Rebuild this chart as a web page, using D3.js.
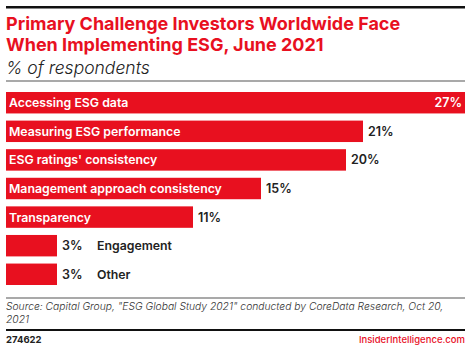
<!DOCTYPE html>
<html>
<head>
<meta charset="utf-8">
<script src="https://cdn.jsdelivr.net/npm/d3@7"></script>
<style>
  body { margin: 0; background: #fff; }
  svg { display: block; font-family: Inter, "Noto Sans", sans-serif; }
</style>
</head>
<body>
<div id="chart"></div>
<script>
const categories = ["Accessing ESG data", "Measuring ESG performance", "ESG ratings' consistency",
  "Management approach consistency", "Transparency", "Engagement", "Other"];
const values = [27, 21, 20, 15, 11, 3, 3];

const width = 470, height = 350;
const red = "#e8101f";
const margin = { l: 6, r: 5 };

const svg = d3.select("#chart").append("svg")
  .attr("width", width).attr("height", height);

// header
svg.append("rect").attr("x", 6).attr("y", 6).attr("width", 459).attr("height", 2.5).attr("fill", "#111");
svg.append("text").attr("x", 6).attr("y", 30).attr("fill", red)
  .attr("font-size", 18).attr("font-weight", 700).text("Primary Challenge Investors Worldwide Face");
svg.append("text").attr("x", 6).attr("y", 51).attr("fill", red)
  .attr("font-size", 18).attr("font-weight", 700).text("When Implementing ESG, June 2021");
svg.append("text").attr("x", 6).attr("y", 74).attr("fill", "#222")
  .attr("font-size", 17.5).attr("font-style", "italic").attr("font-weight", 300).text("% of respondents");
svg.append("rect").attr("x", 6).attr("y", 80.5).attr("width", 459).attr("height", 1).attr("fill", "#555");

// bars
const x = d3.scaleLinear().domain([0, 27]).range([margin.l, width - margin.r]);
const y = d3.scaleBand().domain(categories).range([92, 285]).paddingInner(0.25).paddingOuter(0);

const rows = svg.selectAll(".row").data(categories).join("g").attr("class", "row");

rows.append("rect")
  .attr("x", x(0))
  .attr("y", d => y(d))
  .attr("width", (d, i) => x(values[i]) - x(0))
  .attr("height", y.bandwidth())
  .attr("fill", red);

rows.each(function (d, i) {
  const g = d3.select(this);
  const v = values[i];
  const cy = y(d) + y.bandwidth() / 2 + 4.5;
  const barEnd = x(v);
  const small = v < 5;
  if (!small) {
    g.append("text").attr("x", x(0) + 3).attr("y", cy).attr("fill", "#fff")
      .attr("font-size", 12.3).attr("font-weight", 600).text(d);
  }
  const inside = i === 0;
  g.append("text")
    .attr("x", inside ? barEnd - 3 : barEnd + 5)
    .attr("y", cy)
    .attr("text-anchor", inside ? "end" : "start")
    .attr("fill", inside ? "#fff" : "#222")
    .attr("font-size", 12.5).attr("font-weight", 600)
    .text(v + "%");
  if (small) {
    g.append("text").attr("x", 97).attr("y", cy).attr("fill", "#222")
      .attr("font-size", 12.3).attr("font-weight", 600).text(d);
  }
});

// footer
svg.append("rect").attr("x", 6).attr("y", 297.5).attr("width", 459).attr("height", 1).attr("fill", "#555");
svg.append("text").attr("x", 6).attr("y", 310).attr("fill", "#333")
  .attr("font-size", 10.3).attr("font-style", "italic").attr("font-weight", 300)
  .text("Source: Capital Group, \"ESG Global Study 2021\" conducted by CoreData Research, Oct 20,");
svg.append("text").attr("x", 6).attr("y", 323).attr("fill", "#333")
  .attr("font-size", 10.3).attr("font-style", "italic").attr("font-weight", 300).text("2021");
svg.append("rect").attr("x", 6).attr("y", 329).attr("width", 459).attr("height", 2).attr("fill", "#111");
svg.append("text").attr("x", 6).attr("y", 343).attr("fill", "#222")
  .attr("font-size", 9.5).attr("font-weight", 700).text("274622");
svg.append("text").attr("x", 465).attr("y", 343).attr("fill", red).attr("text-anchor", "end")
  .attr("font-size", 9.5).attr("font-weight", 500).text("InsiderIntelligence.com");
</script>
</body>
</html>
